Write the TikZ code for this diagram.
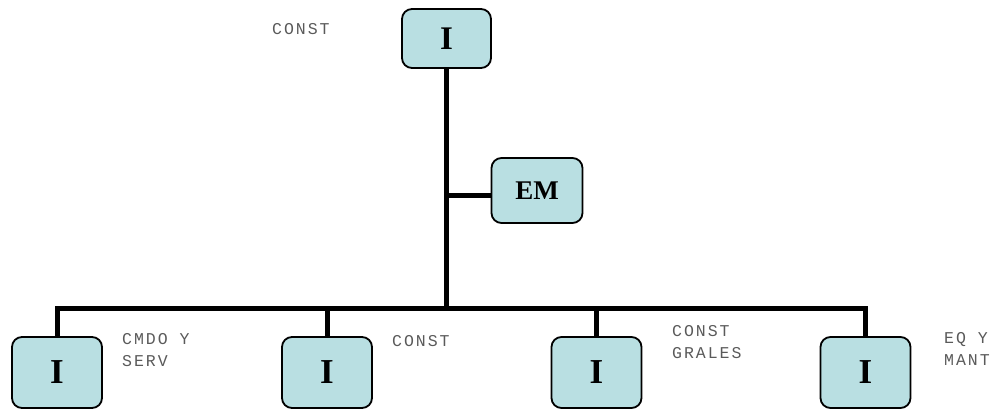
\documentclass[tikz,border=0pt]{standalone}
\usepackage{fontspec}
\setmainfont{Liberation Serif}
\newfontfamily\labfont[LetterSpace=12]{Liberation Mono}
\definecolor{boxfill}{RGB}{185,223,226}
\definecolor{labgray}{RGB}{90,90,90}
\begin{document}
\begin{tikzpicture}[x=1pt,y=-1pt,
  orgbox/.style={draw=black, line width=1.8pt, fill=boxfill, rounded corners=10pt, inner sep=0pt, font=\bfseries},
  conn/.style={line width=5pt, line join=miter, black},
  lab/.style={font=\labfont\fontsize{16.5}{21.5}\selectfont, text=labgray, align=left, inner sep=0pt, anchor=base west}
]
\useasboundingbox (0,0) rectangle (997,409);
\node[orgbox, minimum width=89pt, minimum height=59pt, font=\bfseries\fontsize{33}{36}\selectfont] (top) at (446.5,38.5) {I};
\node[orgbox, minimum width=91pt, minimum height=65pt, font=\bfseries\fontsize{27}{30}\selectfont] (em) at (537,190.5) {EM};
\foreach \n/\x in {b1/57,b2/327,b3/596.5,b4/865.5}{
  \node[orgbox, minimum width=90pt, minimum height=71pt, font=\bfseries\fontsize{35}{38}\selectfont] (\n) at (\x,372.5) {I};
}
\coordinate (bar) at (446.5,308);
\coordinate (emj) at (446.5,196);
\draw[conn] (top.south) -- (bar);
\draw[conn] (emj) -- (emj -| em.west);
\draw[conn] (b1.north) |- (bar) -| (b4.north);
\draw[conn] (b2.north) -- (b2.north |- bar);
\draw[conn] (b3.north) -- (b3.north |- bar);
\node[lab] (l0) at (272,35) {CONST};
\node[lab] (l1) at (122,366) {CMDO Y\\SERV};
\node[lab] (l2) at (392,346) {CONST};
\node[lab] (l3) at (672,358) {CONST\\GRALES};
\node[lab] (l4) at (944,365) {EQ Y\\MANT};
\end{tikzpicture}
\end{document}
